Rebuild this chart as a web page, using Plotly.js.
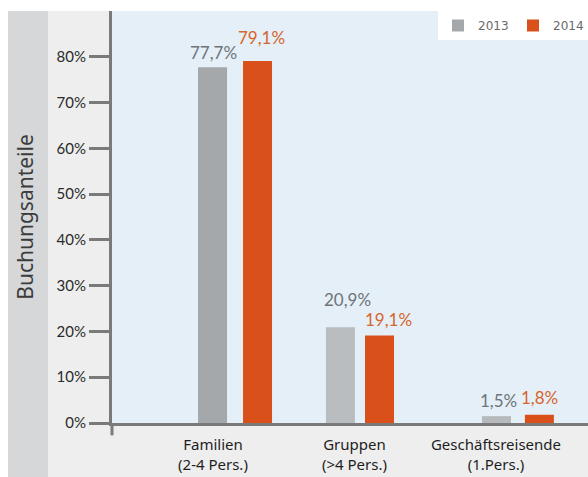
<!DOCTYPE html>
<html>
<head>
<meta charset="utf-8">
<script src="https://cdn.plot.ly/plotly-3.0.1.min.js"></script>
<style>
  html, body { margin: 0; padding: 0; background: #ffffff; }
  #chart { width: 588px; height: 477px; }
</style>
</head>
<body>
<div id="chart"></div>
<script>
// ---- data ----
const categories = ["Familien<br>(2-4 Pers.)", "Gruppen<br>(>4 Pers.)", "Geschäftsreisende<br>(1.Pers.)"];
const values2013 = [77.7, 20.9, 1.5];
const values2014 = [79.1, 19.1, 1.8];
const seriesNames = ["2013", "2014"];
const yTickVals = [0, 10, 20, 30, 40, 50, 60, 70, 80];
const yTickText = ["0%", "10%", "20%", "30%", "40%", "50%", "60%", "70%", "80%"];
const yTitle = "Buchungsanteile";

const fmt = v => v.toFixed(1).replace('.', ',') + '%';

// ---- styling / placement ----
const barW = 0.205;
const offs2013 = [-0.261, -0.357, -0.254];
const offs2014 = [0.057, -0.081, 0.049];
const colors2013 = ['#a4a8ab', '#b9bdc0', '#b6babd'];
const color2014 = '#d9501b';
// label nudges in px (to match the hand-placed labels of the original)
const lblX2013 = [-21, -29, -19];
const lblY2013 = [2, 15, 3];
const lblX2014 = [27, 12, 22];
const lblY2014 = [11, 4, 5];

const trace2013 = {
  type: 'bar', name: seriesNames[0], x: categories, y: values2013,
  width: barW, offset: offs2013,
  marker: { color: colors2013 }, hoverinfo: 'skip'
};
const trace2014 = {
  type: 'bar', name: seriesNames[1], x: categories, y: values2014,
  width: barW, offset: offs2014,
  marker: { color: color2014 }, hoverinfo: 'skip'
};

const labelAnn = (vals, dx, dy, color) => vals.map((v, j) => ({
  x: categories[j], y: v, xref: 'x', yref: 'y',
  text: fmt(v), showarrow: false, xanchor: 'center', yanchor: 'bottom',
  xshift: dx[j], yshift: dy[j],
  font: { family: 'Lato, sans-serif', size: 17, color: color }
}));

const annotations = [
  ...labelAnn(values2013, lblX2013, lblY2013, '#6e7478'),
  ...labelAnn(values2014, lblX2014, lblY2014, '#d8652c')
];

const layout = {
  width: 588, height: 477,
  margin: { l: 112, r: 0, t: 11, b: 54 },
  paper_bgcolor: '#eeeeee',
  plot_bgcolor: '#e4eff7',
  barmode: 'overlay',
  showlegend: true,
  legend: {
    orientation: 'h', x: 1, xanchor: 'right', y: 1, yanchor: 'top',
    bgcolor: '#ffffff', font: { family: 'DejaVu Sans, sans-serif', size: 12, color: '#6a6a6a' },
    traceorder: 'normal', itemwidth: 30, entrywidth: 30, entrywidthmode: 'pixels'
  },
  annotations: annotations,
  xaxis: {
    type: 'category', range: [-0.869, 2.495], fixedrange: true,
    showline: true, linecolor: '#7a7a7a', linewidth: 3,
    ticks: '', showgrid: false, zeroline: false,
    tickfont: { family: 'Noto Sans, sans-serif', size: 15, color: '#1e1e1e' },
    ticklabelshift: -22, ticklabelstandoff: 6
  },
  yaxis: {
    range: [0, 90], fixedrange: true,
    showline: true, linecolor: '#7a7a7a', linewidth: 3,
    ticks: 'outside', ticklen: 20, tickwidth: 3, tickcolor: '#7a7a7a',
    tickvals: yTickVals, ticktext: yTickText,
    showgrid: false, zeroline: false,
    tickfont: { family: 'Lato, sans-serif', size: 15, color: '#2a2a2a' },
    title: { text: yTitle, standoff: 18, font: { family: 'Noto Sans, sans-serif', size: 21, color: '#3c3c3c' } }
  },
  shapes: [
    { type: 'rect', xref: 'paper', yref: 'paper', x0: -0.3, x1: 1.05, y0: 1, y1: 1.1, fillcolor: '#ffffff', line: { width: 0 }, layer: 'below' },
    { type: 'rect', xref: 'paper', yref: 'paper', x0: -0.3, x1: -0.2185, y0: -0.2, y1: 1.1, fillcolor: '#ffffff', line: { width: 0 }, layer: 'below' },
    { type: 'rect', xref: 'paper', yref: 'paper', x0: -0.2185, x1: -0.1345, y0: -0.2, y1: 1, fillcolor: '#d5d7d9', line: { width: 0 }, layer: 'below' },
    { type: 'line', xref: 'paper', yref: 'paper', x0: 0, x1: 0, y0: 0, y1: -0.03, line: { color: '#7a7a7a', width: 3 } }
  ]
};

Plotly.newPlot('chart', [trace2013, trace2014], layout, { displayModeBar: false, staticPlot: true });
</script>
</body>
</html>
